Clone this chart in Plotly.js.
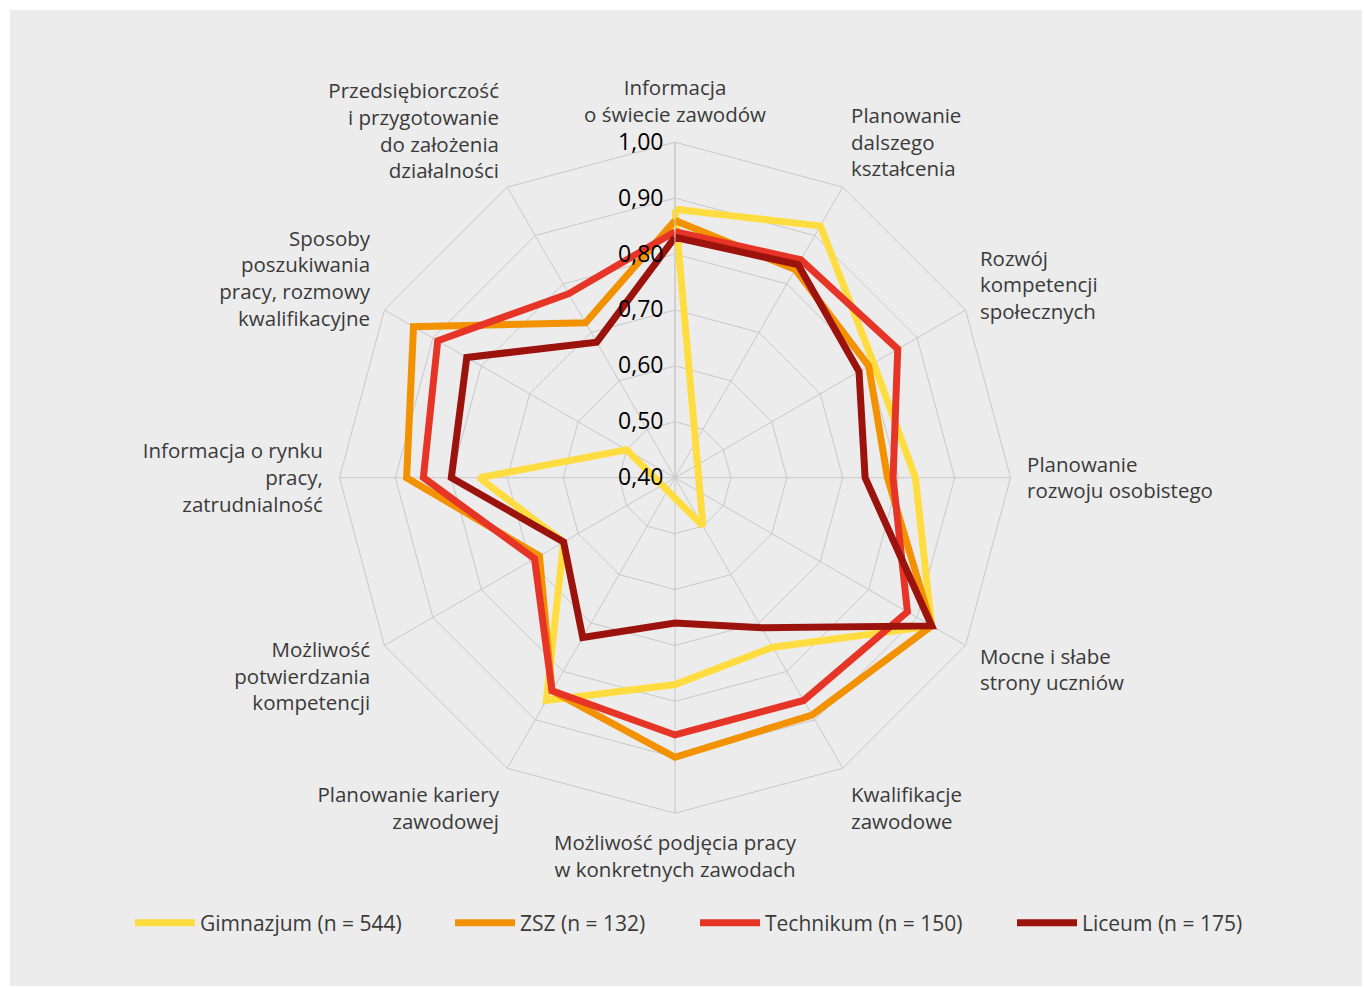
<!DOCTYPE html>
<html>
<head>
<meta charset="utf-8">
<script src="https://cdn.plot.ly/plotly-3.0.1.min.js"></script>
<style>
html, body { margin: 0; padding: 0; background: #ffffff; }
#chart { position: absolute; left: 10px; top: 10px; width: 1352px; height: 976px; }
</style>
</head>
<body>
<div id="chart"></div>
<script>
// ---- data ----
const categories = [
  "Informacja<br>o świecie zawodów",
  "Planowanie<br>dalszego<br>kształcenia",
  "Rozwój<br>kompetencji<br>społecznych",
  "Planowanie<br>rozwoju osobistego",
  "Mocne i słabe<br>strony uczniów",
  "Kwalifikacje<br>zawodowe",
  "Możliwość podjęcia pracy<br>w konkretnych zawodach",
  "Planowanie kariery<br>zawodowej",
  "Możliwość<br>potwierdzania<br>kompetencji",
  "Informacja o rynku<br>pracy,<br>zatrudnialność",
  "Sposoby<br>poszukiwania<br>pracy, rozmowy<br>kwalifikacyjne",
  "Przedsiębiorczość<br>i przygotowanie<br>do założenia<br>działalności"
];
const gimnazjum = [0.88, 0.92, 0.81, 0.83, 0.93, 0.75, 0.77, 0.86, 0.63, 0.75, 0.50, 0.30];
const zsz       = [0.86, 0.83, 0.80, 0.78, 0.93, 0.89, 0.90, 0.84, 0.68, 0.88, 0.94, 0.72];
const technikum = [0.84, 0.85, 0.86, 0.79, 0.88, 0.86, 0.86, 0.84, 0.69, 0.85, 0.89, 0.78];
const liceum    = [0.83, 0.84, 0.78, 0.74, 0.93, 0.71, 0.66, 0.73, 0.63, 0.80, 0.83, 0.68];
const seriesNames = ["Gimnazjum (n = 544)", "ZSZ (n = 132)", "Technikum (n = 150)", "Liceum (n = 175)"];
const radialTicks = [0.40, 0.50, 0.60, 0.70, 0.80, 0.90, 1.00];

// ---- styles ----
const seriesColors = ["#FFDD40", "#F39200", "#E63427", "#9C120D"];
const seriesValues = [gimnazjum, zsz, technikum, liceum];
const legendLeft = [135, 455, 700, 1017];   // page x where each legend entry starts
const RMIN = radialTicks[0];
const RMAX = radialTicks[radialTicks.length - 1];
const N = categories.length;

// Like the original (Excel) radar: a value below the axis minimum is
// plotted through the centre, on the opposite spoke.
function toPolar(values) {
  const r = [], theta = [];
  values.forEach((v, i) => {
    if (v < RMIN) { r.push(2 * RMIN - v); theta.push(categories[(i + N / 2) % N]); }
    else { r.push(v); theta.push(categories[i]); }
  });
  r.push(r[0]); theta.push(theta[0]);
  return { r, theta };
}

const legendIds = ["legend", "legend2", "legend3", "legend4"];

const traces = seriesValues.map((vals, k) => {
  const p = toPolar(vals);
  return {
    type: "scatterpolar",
    mode: "lines",
    r: p.r,
    theta: p.theta,
    name: seriesNames[k],
    legend: legendIds[k],
    line: { color: seriesColors[k], width: 7 },
    hoverinfo: "skip"
  };
});

const W = 1352, H = 976, OFF = 10;
const cx = 665, cy = 467.7, R = 335.5;
const FONT = "Open Sans, Noto Sans, sans-serif";
const GRID = "#c8c8c8";
const TEXT = "#3a3a3a";

const layout = {
  width: W, height: H,
  margin: { l: 0, r: 0, t: 0, b: 0 },
  paper_bgcolor: "#ececec",
  separators: ", ",
  font: { family: FONT, color: TEXT, size: 20 },
  showlegend: true,
  polar: {
    domain: { x: [(cx - R) / W, (cx + R) / W], y: [(H - cy - R) / H, (H - cy + R) / H] },
    bgcolor: "#ececec",
    gridshape: "linear",
    radialaxis: {
      range: [RMIN, RMAX],
      tickvals: radialTicks,
      tickformat: ".2f",
      angle: 90,
      side: "counterclockwise",
      tickangle: 90,
      showline: true,
      linecolor: GRID,
      linewidth: 1,
      gridcolor: GRID,
      gridwidth: 1,
      ticks: "outside",
      ticklen: 3,
      tickcolor: "rgba(0,0,0,0)",
      tickfont: { family: FONT, size: 23, color: "#000000" },
      layer: "above traces"
    },
    angularaxis: {
      type: "category",
      categoryorder: "array",
      categoryarray: categories,
      direction: "clockwise",
      rotation: 90,
      showline: true,
      linecolor: GRID,
      linewidth: 1,
      gridcolor: GRID,
      gridwidth: 1,
      ticks: "outside",
      ticklen: 12,
      tickcolor: "rgba(0,0,0,0)",
      tickfont: { family: FONT, size: 20.5, color: TEXT },
      layer: "below traces"
    }
  }
};

legendIds.forEach((id, k) => {
  layout[id] = {
    orientation: "h",
    x: (legendLeft[k] - OFF - 5) / W, xanchor: "left",
    y: (H - 913) / H, yanchor: "middle",
    font: { family: FONT, size: 21, color: TEXT },
    bgcolor: "rgba(0,0,0,0)",
    itemwidth: 60
  };
});

Plotly.newPlot("chart", traces, layout, { displayModeBar: false, staticPlot: true });
</script>
</body>
</html>
